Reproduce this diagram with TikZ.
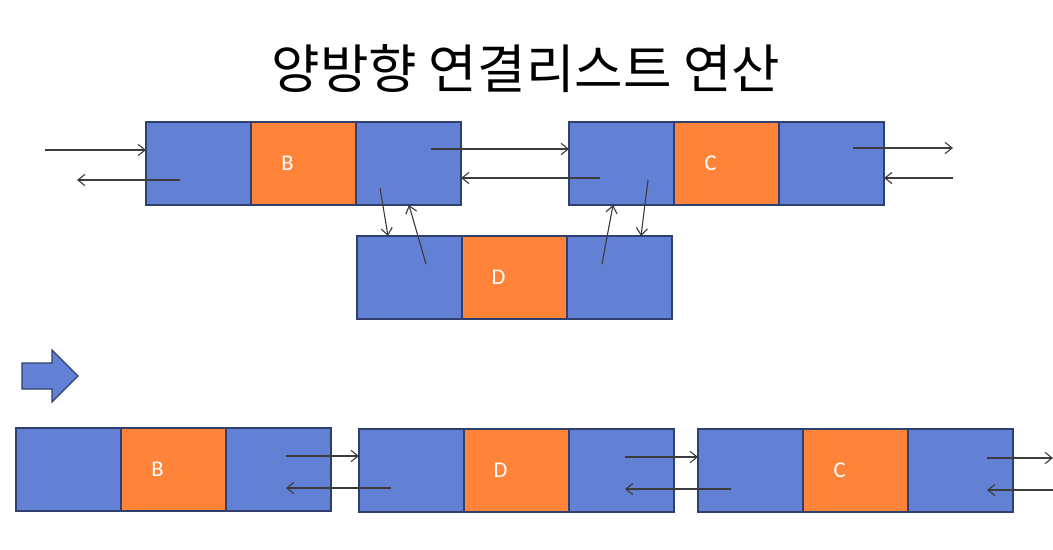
\documentclass[tikz,border=0pt]{standalone}
\usepackage{fontspec}
\newfontfamily\cjk{Noto Sans CJK KR}
\newfontfamily\lblfont{Carlito}
\usetikzlibrary{positioning,arrows.meta}
\definecolor{ptrblue}{RGB}{98,129,213}
\definecolor{dataorange}{RGB}{255,132,57}
\definecolor{edgeblue}{RGB}{47,64,110}
\definecolor{ptrgray}{RGB}{60,60,60}
\tikzset{
  cell/.style={draw=edgeblue,line width=0.9pt,minimum width=2.625cm,
    minimum height=2.075cm,outer sep=0pt,inner sep=0pt},
  ptrcell/.style={cell,fill=ptrblue},
  datcell/.style={cell,fill=dataorange,
    label={[text=white,font=\lblfont\fontsize{16}{16}\selectfont,xshift=-0.4cm]center:#1}},
  ptr/.style={-{Straight Barb[length=5pt,width=8pt]},draw=ptrgray,line width=0.8pt}
}

\begin{document}
\begin{tikzpicture}[x=0.025cm,y=-0.025cm]
  \useasboundingbox (0,0) rectangle (1053,549);
  %
  % Title
  \node (title) at (526,69) {\cjk\fontsize{37.5}{42}\selectfont 양방향 연결리스트 연산};
  %
  % Before: B, C and the new node D
  \node[ptrcell,anchor=north west] (bL) at (146,122) {};
  \node[datcell=B,right=0pt of bL] (bD) {};
  \node[ptrcell,right=0pt of bD] (bR) {};
  %
  \node[ptrcell,anchor=north west] (cL) at (569,122) {};
  \node[datcell=C,right=0pt of cL] (cD) {};
  \node[ptrcell,right=0pt of cD] (cR) {};
  %
  \node[ptrcell,anchor=north west] (dL) at (357,236) {};
  \node[datcell=D,right=0pt of dL] (dD) {};
  \node[ptrcell,right=0pt of dD] (dR) {};
  %
  % Links (before)
  \coordinate (inB) at (45,150);
  \coordinate (outB) at (77,180);
  \coordinate (nxB) at (431,149);
  \coordinate (pvC) at (600,178);
  \coordinate (nxC) at (853,148);
  \coordinate (outC) at (953,148);
  \coordinate (inC) at (953,178);
  \draw[ptr] (inB) -- (inB -| bL.west);
  \draw[ptr] (outB -| 180,0) -- (outB);
  \draw[ptr] (nxB) -- (nxB -| cL.west);
  \draw[ptr] (pvC) -- (pvC -| bR.east);
  \draw[ptr] (nxC) -- (outC);
  \draw[ptr] (inC) -- (inC -| cR.east);
  %
  \coordinate (bDn) at (380,188);
  \coordinate (dUp) at (426,264);
  \coordinate (dUp2) at (602,264);
  \coordinate (cDn) at (648,180);
  \draw[ptr] (bDn) -- (388,0 |- dL.north);
  \draw[ptr] (dUp) -- (409,0 |- bR.south);
  \draw[ptr] (dUp2) -- (613,0 |- cL.south);
  \draw[ptr] (cDn) -- (641,0 |- dR.north);
  %
  % Block arrow
  \draw[fill=ptrblue,draw=edgeblue,line width=0.8pt]
    (22,363) -- (52,363) -- (52,350) -- (78,376) -- (52,402) -- (52,389) -- (22,389) -- cycle;
  %
  % After: B, D, C
  \node[ptrcell,anchor=north west] (b2L) at (16,428) {};
  \node[datcell=B,right=0pt of b2L] (b2D) {};
  \node[ptrcell,right=0pt of b2D] (b2R) {};
  %
  \node[ptrcell,anchor=north west] (d2L) at (359,429) {};
  \node[datcell=D,right=0pt of d2L] (d2D) {};
  \node[ptrcell,right=0pt of d2D] (d2R) {};
  %
  \node[ptrcell,anchor=north west] (c2L) at (698,429) {};
  \node[datcell=C,right=0pt of c2L] (c2D) {};
  \node[ptrcell,right=0pt of c2D] (c2R) {};
  %
  % Links (after)
  \coordinate (nxB2) at (286,456);
  \coordinate (pvD2) at (391,488);
  \coordinate (nxD2) at (625,457);
  \coordinate (pvC2) at (731,489);
  \coordinate (nxC2) at (987,458);
  \coordinate (outC2) at (1053,458);
  \coordinate (inC2) at (1053,490);
  \draw[ptr] (nxB2) -- (nxB2 -| d2L.west);
  \draw[ptr] (pvD2) -- (pvD2 -| nxB2);
  \draw[ptr] (nxD2) -- (nxD2 -| c2L.west);
  \draw[ptr] (pvC2) -- (pvC2 -| nxD2);
  \draw[ptr] (nxC2) -- (outC2);
  \draw[ptr] (inC2) -- (inC2 -| nxC2);
  %
\end{tikzpicture}
\end{document}
